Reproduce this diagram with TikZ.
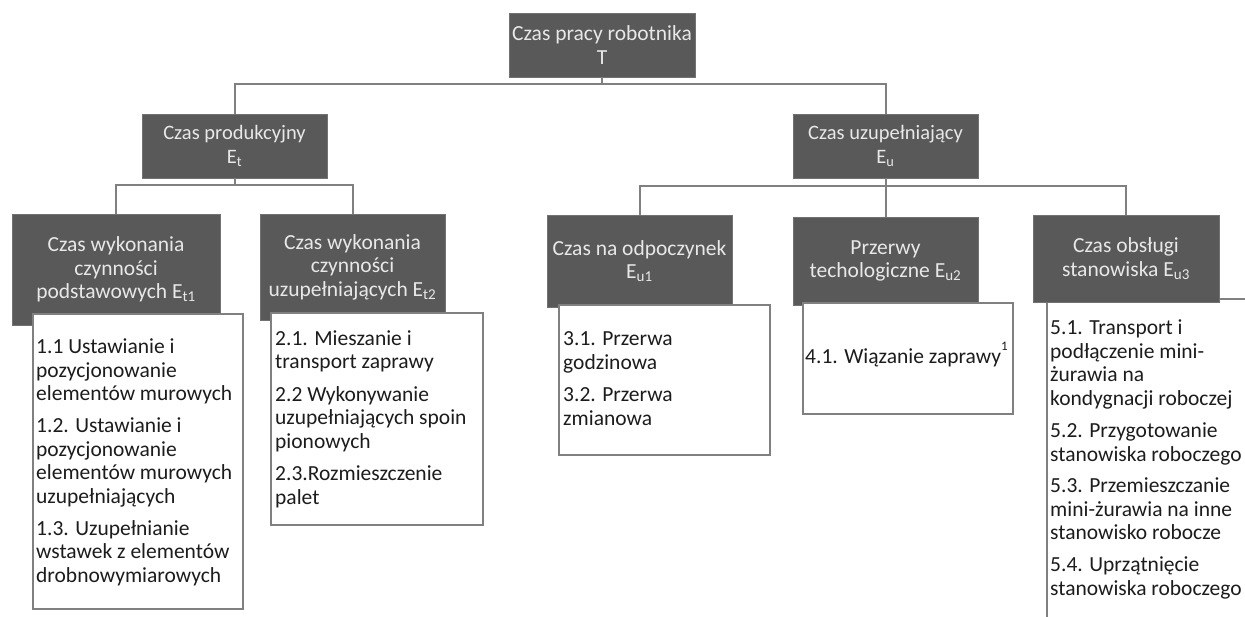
\documentclass[tikz,border=0pt]{standalone}
\usepackage{fontspec}
\setmainfont{Carlito}
\definecolor{boxgray}{RGB}{89,89,89}
\definecolor{linegray}{RGB}{128,128,128}
\definecolor{hdrtext}{RGB}{232,232,232}
\definecolor{txtgray}{RGB}{28,28,28}
\newcommand{\hdrfont}{\fontsize{21.5}{23.5}\selectfont}
\newcommand{\lvlfont}{\fontsize{20.5}{24.5}\selectfont}
\newcommand{\itemfont}{\fontsize{21.5}{23.5}\selectfont}
\newcommand{\footmark}[1]{\raisebox{13pt}{\fontsize{13}{13}\selectfont #1}}
\tikzset{
  hdr/.style={fill=boxgray, draw=boxgray!85!white, line width=0.8pt, text=hdrtext,
    align=center, inner sep=0pt, font=\hdrfont},
  itembox/.style={draw=linegray, line width=1.6pt, fill=white, inner sep=0pt, anchor=north west},
  itemtext/.style={text=txtgray, align=left, inner sep=0pt, anchor=base west, font=\itemfont},
  link/.style={draw=linegray, line width=2pt},
}

\begin{document}
\begin{tikzpicture}[x=1pt, y=-1pt]
    \useasboundingbox (0,0) rectangle (1245,616);
    \clip (0,0) rectangle (1245,616);

    % top and second level
    \node[hdr, minimum width=186pt, minimum height=64pt] (T) at (602,45) {Czas pracy robotnika\\T};
    \node[hdr, font=\lvlfont, minimum width=185pt, minimum height=64pt] (Et) at (234.5,146) {Czas produkcyjny\\E\textsubscript{t}};
    \node[hdr, font=\lvlfont, minimum width=185pt, minimum height=64pt] (Eu) at (885.5,146) {Czas uzupełniający\\E\textsubscript{u}};

    % third level
    \node[hdr, minimum width=208pt, minimum height=111pt] (Et1) at (116,269.5) {Czas wykonania\\czynności\\podstawowych E\textsubscript{t1}};
    \node[hdr, minimum width=185pt, minimum height=106pt] (Et2) at (352.5,267) {Czas wykonania\\czynności\\uzupełniających E\textsubscript{t2}};
    \node[hdr, minimum width=185pt, minimum height=92pt] (Eu1) at (639.5,261) {Czas na odpoczynek\\E\textsubscript{u1}};
    \node[hdr, minimum width=185pt, minimum height=88pt] (Eu2) at (885.5,261) {Przerwy\\techologiczne E\textsubscript{u2}};

    % lists
    \node[itembox, minimum width=250pt, minimum height=360pt] (C5) at (1046,298) {};
    \node[hdr, minimum width=186pt, minimum height=87pt] (Eu3) at (1126,258.5) {Czas obsługi\\stanowiska E\textsubscript{u3}};

    \node[itembox, minimum width=210pt, minimum height=295pt] (C1) at (32,313) {};
    \node[itembox, minimum width=212pt, minimum height=212pt] (C2) at (270,312) {};
    \node[itembox, minimum width=211pt, minimum height=150pt] (C3) at (558,304) {};
    \node[itembox, minimum width=210pt, minimum height=111pt] (C4) at (802,302) {};

    % text anchored at the baseline of its last line
    \node[itemtext] (L1) at (36,582) {1.1 Ustawianie i\\pozycjonowanie\\elementów murowych\\[8.5pt]
      1.2. Ustawianie i\\pozycjonowanie\\elementów murowych\\uzupełniających\\[8.5pt]
      1.3. Uzupełnianie\\wstawek z elementów\\drobnowymiarowych};
    \node[itemtext] (L2) at (275,504) {2.1. Mieszanie i\\transport zaprawy\\[9pt]
      2.2 Wykonywanie\\uzupełniających spoin\\pionowych\\[9pt]
      2.3.Rozmieszczenie\\palet};
    \node[itemtext] (L3) at (563,425) {3.1. Przerwa\\godzinowa\\[9pt]3.2. Przerwa\\zmianowa};
    \node[itemtext] (L4) at (805,363) {4.1. Wiązanie zaprawy\footmark{1}};
    \node[itemtext] (L5) at (1050,595) {5.1. Transport i\\podłączenie mini-\\żurawia na\\kondygnacji roboczej\\[9pt]
      5.2. Przygotowanie\\stanowiska roboczego\\[8pt]
      5.3. Przemieszczanie\\mini-żurawia na inne\\stanowisko robocze\\[8.5pt]
      5.4. Uprzątnięcie\\stanowiska roboczego};

    % connectors
    \draw[link] (T.south) -- ++(0,7) -| (Et.north);
    \draw[link] (T.south) -- ++(0,7) -| (Eu.north);
    \draw[link] (Et.south) -- ++(0,7) -| (Et1.north);
    \draw[link] (Et.south) -- ++(0,7) -| (Et2.north);
    \foreach \n in {Eu1,Eu2,Eu3}
        \draw[link] (Eu.south) -- ++(0,8) -| (\n.north);
\end{tikzpicture}
\end{document}
